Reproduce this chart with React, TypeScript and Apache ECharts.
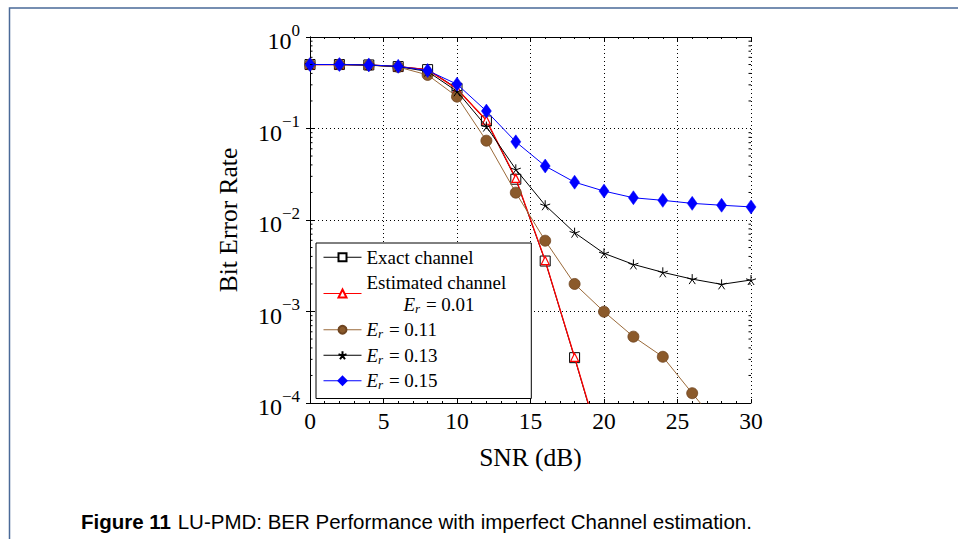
import React, { useEffect, useRef } from 'react';
import * as echarts from 'echarts';

// SNR sweep (dB)
const snrDb = [0, 2, 4, 6, 8, 10, 12, 14, 16, 18, 20, 22, 24, 26, 28, 30];

// Bit error rates per configuration (beyond the last entry the BER is below the plotted range)
const berExact = [0.5, 0.5, 0.495, 0.475, 0.44, 0.275, 0.121, 0.0279, 0.00356, 0.000313, 2.5e-5];
const berEstimated = [0.5, 0.5, 0.495, 0.475, 0.44, 0.27, 0.123, 0.0285, 0.0036, 0.000316, 2.6e-5];
const berEr011 = [0.5, 0.5, 0.492, 0.47, 0.385, 0.223, 0.0736, 0.0199, 0.00594, 0.002, 0.000995, 0.000531, 0.00032, 0.000128, 5.2e-5];
const berEr013 = [0.5, 0.5, 0.493, 0.475, 0.42, 0.255, 0.105, 0.0358, 0.0145, 0.00727, 0.00432, 0.00327, 0.00268, 0.00226, 0.00198, 0.00221];
const berEr015 = [0.5, 0.5, 0.495, 0.478, 0.43, 0.305, 0.155, 0.0715, 0.0389, 0.0259, 0.0207, 0.0175, 0.0164, 0.0152, 0.0145, 0.0139];

// Axis ranges and tick settings
const xTicks = [0, 5, 10, 15, 20, 25, 30];
const yDecades = [1e-4, 1e-3, 1e-2, 1e-1];
const yMinorMultipliers = [2, 3, 4, 5, 6, 7, 8, 9];

const seriesNames = ['Exact channel', 'Estimated channel', 'Er = 0.11', 'Er = 0.13', 'Er = 0.15'];

const SERIF = "'Liberation Serif', 'Times New Roman', serif";
const SANS = "'Liberation Sans', Arial, sans-serif";

const STAR_PATH =
  'path://M5,5 L5,0 M5,5 L9.76,3.45 M5,5 L7.94,9.05 M5,5 L2.06,9.05 M5,5 L0.24,3.45';

const pairs = (ys: number[]) => ys.map((y, i) => [snrDb[i], y]);

function buildOption(): echarts.EChartsCoreOption {
  const minorTickValues: number[][] = [];
  yDecades.forEach((d) => yMinorMultipliers.forEach((m) => minorTickValues.push([0, d * m])));

  const xMin = xTicks[0];
  const xMax = xTicks[xTicks.length - 1];

  const xAxisBase = {
    type: 'value',
    min: xMin,
    max: xMax,
    interval: 5,
    axisLine: { show: true, lineStyle: { color: '#000', width: 1 } },
    axisTick: { show: true, inside: true, length: 4, lineStyle: { color: '#000' } },
    minorTick: { show: true, splitNumber: 5, length: 2, lineStyle: { color: '#000' } },
  };

  const yAxisBase = {
    type: 'log',
    logBase: 10,
    min: 1e-4,
    max: 1,
    splitNumber: 4,
    axisLine: { show: true, lineStyle: { color: '#000', width: 1 } },
    axisTick: { show: true, inside: true, length: 4, lineStyle: { color: '#000' } },
  };

  const legendLabel: Record<string, string> = {
    'Exact channel': '{n|Exact channel}',
    'Estimated channel': '{n|Estimated channel}\n{itInd|E}{sub|r}{n| = 0.01}',
    'Er = 0.11': '{it|E}{sub|r}{n| = 0.11}',
    'Er = 0.13': '{it|E}{sub|r}{n| = 0.13}',
    'Er = 0.15': '{it|E}{sub|r}{n| = 0.15}',
  };

  const LEG_FS = 19;
  const LEG_LH = 21.5;

  return {
    animation: false,
    backgroundColor: '#fff',
    grid: { left: 310, top: 37, width: 441, height: 366, containLabel: false },
    xAxis: [
      {
        ...xAxisBase,
        position: 'bottom',
        name: 'SNR (dB)',
        nameLocation: 'middle',
        nameGap: 41,
        nameTextStyle: { fontFamily: SERIF, fontSize: 25.5, color: '#000' },
        axisLabel: { fontFamily: SERIF, fontSize: 23.5, color: '#000', margin: 6 },
        splitLine: { show: true, lineStyle: { color: '#000', width: 1, type: [1, 3] } },
      },
      {
        ...xAxisBase,
        position: 'top',
        axisLabel: { show: false },
        splitLine: { show: false },
      },
    ],
    yAxis: [
      {
        ...yAxisBase,
        position: 'left',
        name: 'Bit Error Rate',
        nameLocation: 'middle',
        nameGap: 69,
        nameRotate: 90,
        nameTextStyle: { fontFamily: SERIF, fontSize: 25.5, color: '#000' },
        axisLabel: {
          margin: 10,
          formatter: (v: number) => {
            const e = Math.round(Math.log10(v));
            return `{b|10}{s|${e === 0 ? '0' : '\u2212' + -e}}`;
          },
          rich: {
            b: { fontFamily: SERIF, fontSize: 24, color: '#000', padding: [8, 0, 0, 0] },
            s: { fontFamily: SERIF, fontSize: 17, color: '#000', padding: [0, 0, 14, 0] },
          },
        },
        splitLine: { show: true, lineStyle: { color: '#000', width: 1, type: [1, 3] } },
      },
      {
        ...yAxisBase,
        position: 'right',
        axisLabel: { show: false },
        splitLine: { show: false },
      },
    ],
    legend: {
      data: seriesNames,
      orient: 'vertical',
      left: 316,
      top: 243,
      backgroundColor: '#fff',
      borderColor: '#000',
      borderWidth: 1,
      borderRadius: 0,
      padding: [3.5, 25, 7, 7],
      itemWidth: 38,
      itemHeight: 10,
      itemGap: 4,
      selectedMode: false,
      lineStyle: { width: 1 },
      formatter: (name: string) => legendLabel[name] ?? name,
      textStyle: {
        fontFamily: SERIF,
        fontSize: LEG_FS,
        color: '#000',
        lineHeight: LEG_LH,
        rich: {
          n: { fontFamily: SERIF, fontSize: LEG_FS, color: '#000', lineHeight: LEG_LH },
          it: { fontFamily: SERIF, fontSize: LEG_FS, fontStyle: 'italic', color: '#000', lineHeight: LEG_LH },
          itInd: { fontFamily: SERIF, fontSize: LEG_FS, fontStyle: 'italic', color: '#000', lineHeight: LEG_LH, padding: [0, 0, 0, 37] },
          sub: { fontFamily: SERIF, fontSize: 13, fontStyle: 'italic', color: '#000', padding: [8, 1, 0, 0] },
        },
      },
    },
    graphic: [
      {
        type: 'polyline',
        shape: { points: [[958, 8], [9.5, 8], [9.5, 539]] },
        style: { stroke: '#4a6a98', lineWidth: 1.5, fill: 'none' },
        silent: true,
      },
      {
        type: 'text',
        left: 81,
        top: 511,
        style: {
          text: '{b|Figure 11}  {t|LU-PMD: BER Performance with imperfect Channel estimation.}',
          rich: {
            b: { fontFamily: SANS, fontSize: 20.5, fontWeight: 'bold', fill: '#000' },
            t: { fontFamily: SANS, fontSize: 20.5, fill: '#000' },
          },
        },
        silent: true,
      },
    ],
    series: [
      {
        name: 'Exact channel',
        type: 'line',
        data: pairs(berExact),
        symbol: 'rect',
        symbolSize: 10,
        showAllSymbol: true,
        lineStyle: { color: '#000', width: 1 },
        itemStyle: { color: '#fff', borderColor: '#000', borderWidth: 1 },
        z: 2,
      },
      {
        name: 'Estimated channel',
        type: 'line',
        data: pairs(berEstimated),
        symbol: 'triangle',
        symbolSize: 8,
        showAllSymbol: true,
        lineStyle: { color: '#ff0000', width: 1.3 },
        itemStyle: { color: '#fff', borderColor: '#ff0000', borderWidth: 1.2 },
        z: 3,
      },
      {
        name: 'Er = 0.11',
        type: 'line',
        data: pairs(berEr011),
        symbol: 'circle',
        symbolSize: 11,
        showAllSymbol: true,
        lineStyle: { color: '#9a6a3a', width: 1 },
        itemStyle: { color: '#8b5a2b', borderColor: '#6e4420', borderWidth: 0.8 },
        z: 4,
      },
      {
        name: 'Er = 0.13',
        type: 'line',
        data: pairs(berEr013),
        symbol: STAR_PATH,
        symbolSize: 10,
        showAllSymbol: true,
        lineStyle: { color: '#000', width: 1 },
        itemStyle: { color: 'rgba(0,0,0,0)', borderColor: '#000', borderWidth: 1 },
        z: 5,
      },
      {
        name: 'Er = 0.15',
        type: 'line',
        data: pairs(berEr015),
        symbol: 'diamond',
        symbolSize: [10, 14],
        showAllSymbol: true,
        lineStyle: { color: '#0000ff', width: 1 },
        itemStyle: { color: '#0000ff', borderColor: '#0000ff', borderWidth: 0.5 },
        z: 6,
      },
      {
        // minor ticks of the logarithmic axis on both sides of the plot
        name: 'minorTicks',
        type: 'custom',
        data: minorTickValues,
        silent: true,
        clip: false,
        z: 10,
        renderItem: (_params: any, api: any) => {
          const v = api.value(1);
          const pl = api.coord([xMin, v]);
          const pr = api.coord([xMax, v]);
          return {
            type: 'group',
            children: [
              { type: 'line', shape: { x1: pl[0], y1: pl[1], x2: pl[0] + 2.5, y2: pl[1] }, style: { stroke: '#000', lineWidth: 1 } },
              { type: 'line', shape: { x1: pr[0], y1: pr[1], x2: pr[0] - 2.5, y2: pr[1] }, style: { stroke: '#000', lineWidth: 1 } },
            ],
          };
        },
      },
    ],
  };
}

export default function App() {
  const ref = useRef<HTMLDivElement>(null);
  useEffect(() => {
    if (!ref.current) return;
    const chart = echarts.init(ref.current, null, { renderer: 'svg' });
    chart.setOption(buildOption());
    return () => chart.dispose();
  }, []);
  return (
    <div
      ref={ref}
      style={{ position: 'fixed', left: 0, top: 0, width: 958, height: 539, background: '#fff' }}
    />
  );
}
